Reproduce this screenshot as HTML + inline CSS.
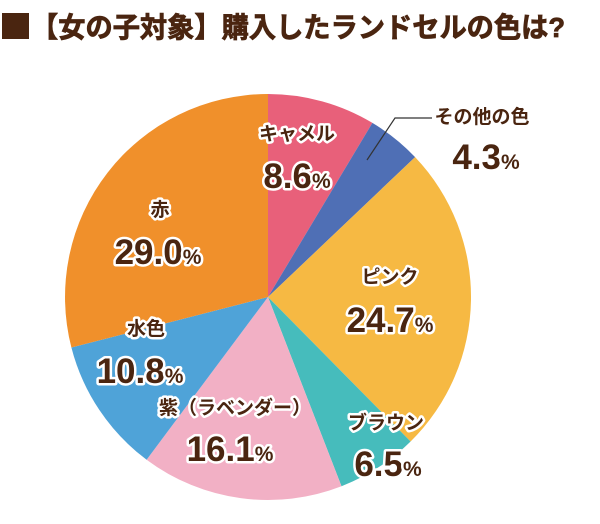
<!DOCTYPE html>
<html><head><meta charset="utf-8"><style>
body{margin:0;background:#fff;}
svg{display:block;}
text{font-family:"Liberation Sans","Noto Sans CJK JP",sans-serif;font-weight:bold;fill:#4a2510;}
.o{stroke:#fff;stroke-width:5;paint-order:stroke;stroke-linejoin:round;}
.l{font-size:19px;}
.n{font-size:35px;}
.p{font-size:21px;}
</style></head><body>
<svg width="600" height="524" viewBox="0 0 600 524">
<rect x="2" y="13" width="27" height="26" fill="#4a2510"/>
<text x="31" y="37" style="font-size:28px;stroke:#4a2510;stroke-width:0.8" textLength="534" lengthAdjust="spacingAndGlyphs">【女の子対象】購入したランドセルの色は?</text>
<g>
<path d="M268,297 L268,94 A203,203 0 0 1 372.4,122.9 Z" fill="#e8607a"/>
<path d="M268,297 L372.4,122.9 A203,203 0 0 1 415.1,157.1 Z" fill="#4f6fb5"/>
<path d="M268,297 L415.1,157.1 A203,203 0 0 1 410.6,441.5 Z" fill="#f6b943"/>
<path d="M268,297 L410.6,441.5 A203,203 0 0 1 341.5,486.2 Z" fill="#46bcbc"/>
<path d="M268,297 L341.5,486.2 A203,203 0 0 1 146.6,459.7 Z" fill="#f2b0c5"/>
<path d="M268,297 L146.6,459.7 A203,203 0 0 1 71.4,347.5 Z" fill="#4fa3d8"/>
<path d="M268,297 L71.4,347.5 A203,203 0 0 1 268,94 Z" fill="#f0902b"/>
</g>
<polyline points="367,160 395,118 432,118" fill="none" stroke="#333" stroke-width="1.2"/>
<g text-anchor="middle">
<text class="o l" x="297" y="140">キャメル</text>
<text class="o" x="297" y="188"><tspan class="n">8.6</tspan><tspan class="p">%</tspan></text>
<text class="o l" x="482" y="123">その他の色</text>
<text class="o" x="486" y="169"><tspan class="n">4.3</tspan><tspan class="p">%</tspan></text>
<text class="o l" x="160" y="216">赤</text>
<text class="o" x="158" y="264"><tspan class="n">29.0</tspan><tspan class="p">%</tspan></text>
<text class="o l" x="390" y="283">ピンク</text>
<text class="o" x="390" y="332"><tspan class="n">24.7</tspan><tspan class="p">%</tspan></text>
<text class="o l" x="146" y="335">水色</text>
<text class="o" x="140" y="383"><tspan class="n">10.8</tspan><tspan class="p">%</tspan></text>
<text class="o l" x="235" y="414">紫（ラベンダー）</text>
<text class="o" x="230" y="461"><tspan class="n">16.1</tspan><tspan class="p">%</tspan></text>
<text class="o l" x="386" y="429">ブラウン</text>
<text class="o" x="388" y="476"><tspan class="n">6.5</tspan><tspan class="p">%</tspan></text>
</g>
</svg>
</body></html>
